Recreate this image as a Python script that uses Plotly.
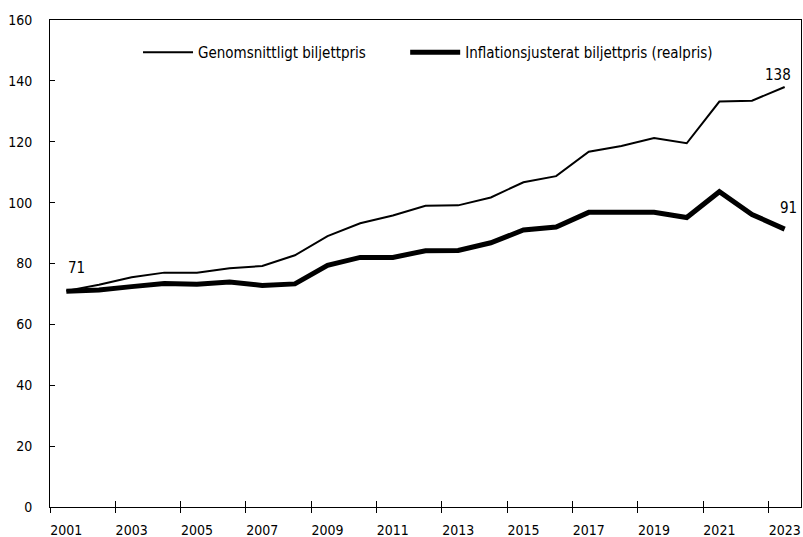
import plotly.graph_objects as go

år = list(range(2001, 2024))
genomsnitt = [71.0, 73.0, 75.5, 77.0, 77.0, 78.4, 79.2, 82.7, 89.0, 93.2, 95.8, 99.0, 99.1,
              101.7, 106.7, 108.7, 116.7, 118.6, 121.2, 119.5, 133.2, 133.5, 138.0]
realpris = [70.9, 71.3, 72.4, 73.4, 73.2, 73.9, 72.8, 73.3, 79.4, 82.0, 82.0, 84.2, 84.3,
            86.8, 91.0, 92.0, 96.8, 96.7, 96.8, 95.1, 103.6, 96.1, 91.3]
tick_år = list(range(2001, 2024, 2))
gränser = [a - 0.5 for a in range(2001, 2025, 2)]

FONT = dict(family="Liberation Sans Narrow, DejaVu Sans Condensed, sans-serif",
            size=15, color="black")
TICKFONT = dict(size=14)
X_RANGE = [2000.5, 2023.5]

fig = go.Figure()
fig.add_trace(go.Scatter(x=år, y=genomsnitt, mode="lines",
                         name="Genomsnittligt biljettpris" + "\u00a0" * 8,
                         line=dict(color="black", width=2)))
fig.add_trace(go.Scatter(x=år, y=realpris, mode="lines",
                         name="Inflationsjusterat biljettpris (realpris)",
                         line=dict(color="black", width=5)))
# osynliga kopior så att axlarna för tickmarkeringarna ritas
for ax in ["x2", "x3"]:
    fig.add_trace(go.Scatter(x=år, y=genomsnitt, xaxis=ax, mode="lines", opacity=0,
                             line=dict(width=0), showlegend=False, hoverinfo="skip"))

# slutvärden
fig.add_annotation(x=år[0], y=genomsnitt[0], text="71", showarrow=False, xshift=10, yshift=23)
fig.add_annotation(x=år[-1], y=genomsnitt[-1], text="138", showarrow=False, xshift=-7, yshift=12)
fig.add_annotation(x=år[-1], y=realpris[-1], text="91", showarrow=False, xshift=4, yshift=21)

fig.update_layout(
    width=803, height=537,
    paper_bgcolor="white", plot_bgcolor="white",
    font=FONT,
    margin=dict(l=50, r=2, t=20, b=30),
    showlegend=True,
    legend=dict(orientation="h", x=0.1172, y=0.967, xanchor="left", yanchor="top",
                bgcolor="rgba(0,0,0,0)", itemwidth=50, tracegroupgap=0),
    xaxis=dict(range=X_RANGE, tickvals=tick_år, ticks="", showgrid=False, zeroline=False,
               showline=True, linecolor="black", linewidth=1, mirror=True,
               tickfont=TICKFONT, ticklabelstandoff=10, automargin=False),
    xaxis2=dict(range=X_RANGE, overlaying="x", tickvals=gränser, ticks="inside", ticklen=6,
                tickcolor="black", showticklabels=False, showgrid=False, zeroline=False,
                showline=False, automargin=False),
    xaxis3=dict(range=X_RANGE, overlaying="x", tickvals=gränser, ticks="outside", ticklen=5,
                tickcolor="black", showticklabels=False, showgrid=False, zeroline=False,
                showline=False, automargin=False),
    yaxis=dict(range=[0, 160], dtick=20, ticks="inside", ticklen=5, tickcolor="black",
               showgrid=False, zeroline=False, showline=True, linecolor="black", linewidth=1,
               mirror=True, tickfont=TICKFONT, ticklabelstandoff=14, automargin=False),
)

# ta bort sidans standardmarginal så att figuren ligger i hörnet
fig.write_html("out.html", config={"displayModeBar": False},
               post_script="document.body.style.margin='0px';")
